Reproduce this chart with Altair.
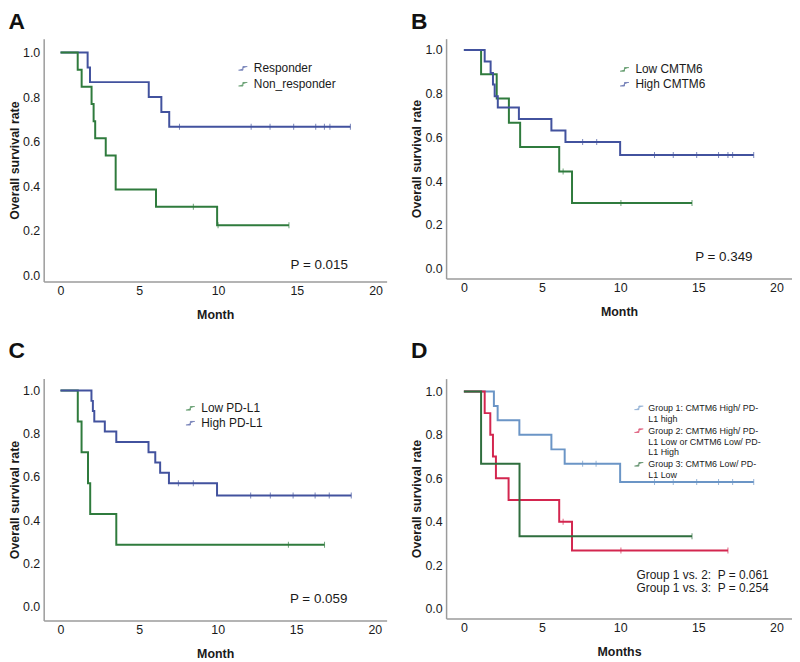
import altair as alt
import pandas as pd

FONT = "Liberation Sans"
NARROW = "Liberation Sans Narrow, Liberation Sans"
TXT = "#1a1a1a"

# ---------------- data ----------------
x_ticks = [0, 5, 10, 15, 20]
y_ticks = [0.0, 0.2, 0.4, 0.6, 0.8, 1.0]

# Panel A
a_groups = ["Responder", "Non_responder"]
a_colors = ["#42529e", "#2f7b3d"]
a_resp_time = [0, 1.72, 1.87, 5.6, 6.4, 6.9, 18.4]
a_resp_surv = [1.0, 0.933, 0.867, 0.800, 0.733, 0.667, 0.667]
a_resp_cens = [7.55, 12.1, 13.3, 14.8, 16.2, 16.75, 17.1, 18.4]
a_non_time = [0, 1.09, 1.34, 1.97, 2.1, 2.2, 2.87, 3.5, 6.06, 9.94, 14.5]
a_non_surv = [1.0, 0.923, 0.846, 0.769, 0.692, 0.615, 0.538, 0.385, 0.308, 0.225, 0.225]
a_non_cens = [8.43, 10.0, 14.5]
a_ptext = ["P = 0.015"]
a_ptext_x = [14.6]
a_ptext_y = [0.045]

# Panel B
b_groups = ["Low CMTM6", "High CMTM6"]
b_colors = ["#2f7b3d", "#42529e"]
b_low_time = [0, 1.1, 2.1, 2.88, 3.6, 6.1, 6.92, 14.6]
b_low_surv = [1.0, 0.889, 0.778, 0.667, 0.556, 0.444, 0.300, 0.300]
b_low_cens = [6.35, 10.05, 14.6]
b_high_time = [0, 1.33, 1.71, 1.86, 1.97, 2.17, 3.52, 5.6, 6.5, 10.0, 18.55]
b_high_surv = [1.0, 0.947, 0.895, 0.842, 0.789, 0.737, 0.684, 0.632, 0.579, 0.520, 0.520]
b_high_cens = [7.6, 8.5, 12.2, 13.4, 14.9, 16.3, 16.9, 17.2, 18.55]
b_ptext = ["P = 0.349"]
b_ptext_x = [14.8]
b_ptext_y = [0.055]

# Panel C
c_groups = ["Low PD-L1", "High PD-L1"]
c_colors = ["#2f7b3d", "#42529e"]
c_low_time = [0, 1.1, 1.34, 1.75, 1.89, 3.55, 16.8]
c_low_surv = [1.0, 0.857, 0.714, 0.571, 0.429, 0.286, 0.286]
c_low_cens = [14.5, 16.8]
c_high_time = [0, 1.97, 2.06, 2.15, 2.82, 3.55, 5.6, 6.03, 6.34, 6.9, 9.96, 18.5]
c_high_surv = [1.0, 0.952, 0.905, 0.857, 0.810, 0.762, 0.714, 0.667, 0.619, 0.571, 0.514, 0.514]
c_high_cens = [7.5, 8.45, 12.1, 13.35, 14.8, 16.2, 17.1, 18.5]
c_ptext = ["P = 0.059"]
c_ptext_x = [14.6]
c_ptext_y = [0.037]

# Panel D
d_groups = ["Group 1: CMTM6 High/ PD-|L1 high",
            "Group 2: CMTM6 High/ PD-|L1 Low or CMTM6 Low/ PD-|L1 High",
            "Group 3: CMTM6 Low/ PD-|L1 Low"]
d_colors = ["#6b95c6", "#d3264f", "#2f6e3e"]
d_g1_time = [0, 1.92, 2.16, 3.55, 5.6, 6.45, 10.0, 18.55]
d_g1_surv = [1.0, 0.933, 0.867, 0.800, 0.733, 0.667, 0.583, 0.583]
d_g1_cens = [7.6, 8.46, 12.2, 13.4, 14.9, 16.3, 17.2, 18.55]
d_g2_time = [0, 1.33, 1.69, 1.86, 2.05, 2.86, 6.1, 6.92, 16.9]
d_g2_surv = [1.0, 0.900, 0.800, 0.700, 0.600, 0.500, 0.400, 0.267, 0.267]
d_g2_cens = [6.35, 10.05, 16.9]
d_g3_time = [0, 1.1, 3.56, 14.6]
d_g3_surv = [1.0, 0.667, 0.333, 0.333]
d_g3_cens = [14.6]
d_ptext = ["Group 1 vs. 2:\u00a0 P = 0.061", "Group 1 vs. 3:\u00a0 P = 0.254"]
d_ptext_x = [11.05, 11.05]
d_ptext_y = [0.155, 0.092]


def surv_at(times, survs, t):
    val = survs[0]
    for ti, si in zip(times, survs):
        if ti <= t + 1e-9:
            val = si
    return val


def km_panel(letter, groups, colors, curves, cens, ptexts, ptx, pty, pfont,
             xdom, ydom, w, h, xtitle, leg, toff):
    rows, crow = [], []
    for g, (t, s), c in zip(groups, curves, cens):
        for ti, si in zip(t, s):
            rows.append({"time": ti, "surv": si, "group": g})
        for ct in c:
            crow.append({"time": ct, "surv": surv_at(t, s, ct), "group": g})
    line_df = pd.DataFrame(rows)
    cens_df = pd.DataFrame(crow)
    txt_df = pd.DataFrame({"time": ptx, "surv": pty, "label": ptexts})

    x = alt.X("time:Q", scale=alt.Scale(domain=xdom, nice=False, zero=False),
              axis=alt.Axis(title=xtitle, values=x_ticks, format="d"))
    y = alt.Y("surv:Q", scale=alt.Scale(domain=ydom, nice=False, zero=False),
              axis=alt.Axis(title="Overall survival rate", values=y_ticks, format=".1f"))
    legend = alt.Legend(**leg)
    color = alt.Color("group:N", scale=alt.Scale(domain=groups, range=colors),
                      legend=legend)

    lines = alt.Chart(line_df).mark_line(
        interpolate="step-after", strokeWidth=2
    ).encode(x=x, y=y, color=color)
    ticks = alt.Chart(cens_df).mark_tick(
        orient="vertical", size=6, thickness=1
    ).encode(x=x, y=y, color=color)
    texts = alt.Chart(txt_df).mark_text(
        align="left", baseline="middle", font=FONT, fontSize=pfont, color=TXT
    ).encode(x=x, y=y, text="label:N")

    return alt.layer(lines, ticks, texts).properties(
        width=w, height=h,
        title=alt.TitleParams(letter, anchor="start", fontSize=23, fontWeight="bold",
                              font=FONT, color="#111111", offset=toff),
    )


def leg_kw(lx, ly, size=12, font=FONT, expr=None, rowpad=2):
    kw = dict(title=None, orient="none", legendX=lx, legendY=ly,
              symbolType="M-2,0.8H0V-0.8H2", symbolSize=20,
              symbolStrokeWidth=1, symbolFillColor="transparent",
              labelFont=font, labelFontSize=size, labelColor=TXT,
              labelOffset=5, rowPadding=rowpad, padding=0, labelLimit=300)
    if expr:
        kw["labelExpr"] = expr
    return kw


A = km_panel("A", a_groups, a_colors,
             [(a_resp_time, a_resp_surv), (a_non_time, a_non_surv)],
             [a_resp_cens, a_non_cens], a_ptext, a_ptext_x, a_ptext_y, 13.5,
             [-1.07, 20.7], [-0.027, 1.062], 346, 245, "Month",
             leg_kw(195, 24, rowpad=4), 5)
B = km_panel("B", b_groups, b_colors,
             [(b_low_time, b_low_surv), (b_high_time, b_high_surv)],
             [b_low_cens, b_high_cens], b_ptext, b_ptext_x, b_ptext_y, 13.5,
             [-1.14, 21.0], [-0.045, 1.052], 349, 242, "Month",
             leg_kw(174, 25, rowpad=3), 5)
C = km_panel("C", c_groups, c_colors,
             [(c_low_time, c_low_surv), (c_high_time, c_high_surv)],
             [c_low_cens, c_high_cens], c_ptext, c_ptext_x, c_ptext_y, 13.5,
             [-1.07, 20.75], [-0.064, 1.055], 346, 244, "Month",
             leg_kw(142, 24, rowpad=3), 16)
D = km_panel("D", d_groups, d_colors,
             [(d_g1_time, d_g1_surv), (d_g2_time, d_g2_surv), (d_g3_time, d_g3_surv)],
             [d_g1_cens, d_g2_cens, d_g3_cens], d_ptext, d_ptext_x, d_ptext_y, 12,
             [-1.14, 21.0], [-0.046, 1.059], 349, 242, "Months",
             leg_kw(190, 25, size=9, font=NARROW, expr="split(datum.label, '|')", rowpad=2), 16)

top = alt.hconcat(A, B, spacing=24).resolve_scale(color="independent")
bottom = alt.hconcat(C, D, spacing=24).resolve_scale(color="independent")

chart = (
    alt.vconcat(top, bottom, spacing=19)
    .resolve_scale(color="independent")
    .properties(padding=0, background="white")
    .configure_view(stroke=None)
    .configure_axis(
        domainColor="#9b9b9b", domainWidth=1.5, ticks=False, grid=False,
        labelFont=FONT, labelFontSize=12.5, labelColor=TXT, labelFlush=False,
        titleFont=FONT, titleFontSize=12.5, titleFontWeight="bold", titleColor=TXT,
    )
    .configure_axisY(labelPadding=4, titlePadding=1)
    .configure_axisX(labelPadding=3, titlePadding=12)
)

chart.save("out.html", embed_options={"renderer": "svg", "actions": False})
